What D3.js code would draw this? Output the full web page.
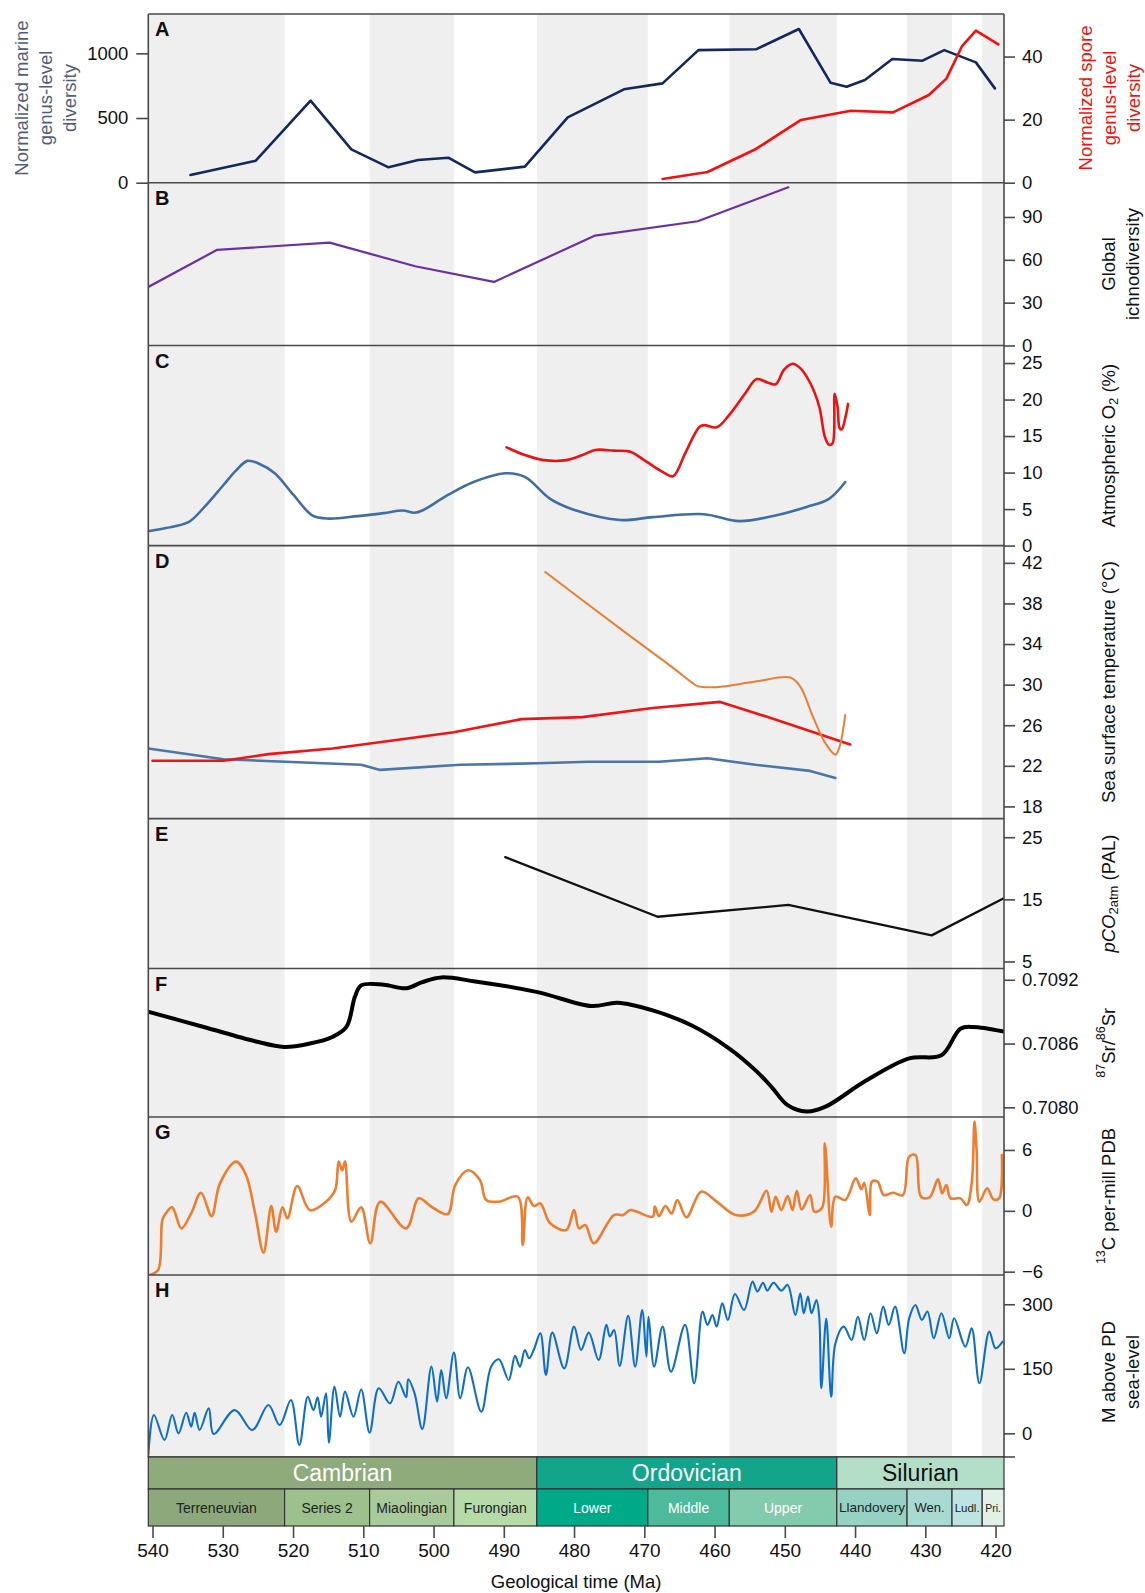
<!DOCTYPE html>
<html><head><meta charset="utf-8">
<script src="https://cdn.jsdelivr.net/npm/d3@7"></script>
<style>
body{margin:0;background:#fff;}
svg{display:block;font-family:"Liberation Sans",Arial,Helvetica,sans-serif;}
</style></head><body>
<svg id="chart" width="1145" height="1593"></svg>
<script>
// ---------------- DATA ----------------
const xDomain = [540.6, 418.8];
const xTicks = [540, 530, 520, 510, 500, 490, 480, 470, 460, 450, 440, 430, 420];

const periodNames = ["Cambrian", "Ordovician", "Silurian"];
const periodBounds = [540.6, 485.3, 442.6, 418.8];
const periodColors = ["#8FAB7C", "#12A58C", "#B3DFC9"];
const periodTextColors = ["#ffffff", "#ffffff", "#111111"];

const seriesNames = ["Terreneuvian", "Series 2", "Miaolingian", "Furongian", "Lower", "Middle", "Upper", "Llandovery", "Wen.", "Ludl.", "Pri."];
const seriesBounds = [540.6, 521.2, 509.1, 497.1, 485.3, 469.5, 457.9, 442.6, 432.6, 426.2, 421.9, 418.8];
const seriesColors = ["#8DA97B", "#9DC18D", "#A9CB9B", "#B7DAA9", "#00AA88", "#4DBA9B", "#84CBAD", "#96D2C4", "#A9DAD1", "#BDE4E0", "#E1F1E8"];
const seriesTextColors = ["#222", "#222", "#222", "#222", "#fff", "#fff", "#fff", "#222", "#222", "#222", "#222"];
const seriesFontSizes = [14, 14, 14, 14, 14, 14, 14, 13.5, 13, 11.5, 10.5];

// A: marine genus diversity (left axis) and spore genus diversity (right axis)
const marineAge = [534.6, 525.3, 517.5, 511.7, 506.4, 502.2, 497.9, 494.1, 487.0, 480.9, 472.9, 467.4, 462.3, 454.1, 448.0, 443.5, 441.2, 438.6, 434.7, 430.4, 427.3, 422.8, 420.1];
const marineDiv = [60, 170, 634, 258, 119, 175, 193, 80, 124, 505, 722, 768, 1025, 1031, 1188, 773, 742, 794, 956, 943, 1025, 930, 729];
const sporeAge = [467.4, 461.0, 454.1, 447.7, 440.6, 434.6, 429.5, 427.0, 424.8, 422.8, 419.6];
const sporeDiv = [1.2, 3.4, 10.7, 19.9, 22.8, 22.3, 27.8, 33.0, 43.2, 48.2, 43.9];
const marineTicks = [0, 500, 1000];
const sporeTicks = [0, 20, 40];

// B: global ichnodiversity
const ichnoAge = [540.6, 530.8, 514.8, 502.6, 491.4, 477.0, 462.4, 449.5];
const ichnoDiv = [41, 67, 72, 55.5, 44.5, 77, 87, 110.8];
const ichnoTicks = [0, 30, 60, 90];

// C: atmospheric O2
const o2RedAge = [489.6, 487.0, 484.3, 481.1, 478.8, 477.0, 474.3, 472.0, 469.7, 467.4, 465.9, 464.2, 462.2, 461.5, 459.7, 457.9, 455.6, 454.0, 452.4, 451.3, 450.1, 448.9, 447.8, 446.4, 445.1, 444.3, 443.7, 443.2, 442.9, 442.5, 442.2, 441.9, 441.4, 441.0];
const o2Red = [13.45, 12.4, 11.7, 11.7, 12.4, 13.1, 13.0, 12.85, 11.5, 10.1, 9.5, 12.6, 16.2, 16.5, 16.2, 17.9, 20.9, 22.8, 22.3, 22.1, 24.1, 24.9, 24.3, 22.3, 19.05, 14.9, 13.8, 14.0, 20.8, 19.05, 16.1, 15.9, 17.45, 19.4];
const o2BlueAge = [540.6, 538.1, 534.9, 532.6, 529.9, 528.1, 526.5, 524.9, 522.6, 519.9, 517.2, 514.9, 510.8, 507.1, 504.4, 502.7, 501.6, 498.0, 494.3, 489.8, 487.0, 483.4, 479.7, 473.4, 468.8, 461.5, 456.5, 451.5, 446.9, 443.7, 441.4];
const o2Blue = [1.97, 2.4, 3.2, 5.3, 8.3, 10.3, 11.6, 11.25, 9.9, 6.9, 4.1, 3.7, 4.04, 4.45, 4.8, 4.5, 4.8, 6.9, 8.7, 9.9, 9.4, 6.4, 4.8, 3.5, 3.9, 4.3, 3.35, 4.1, 5.3, 6.4, 8.7];
const o2Ticks = [0, 5, 10, 15, 20, 25];

// D: sea surface temperature
const sstOrangeAge = [484.1, 473.0, 466.0, 463.2, 462.4, 459.7, 454.2, 449.2, 447.8, 446.0, 444.2, 442.8, 442.2, 441.4];
const sstOrange = [41.1, 35.3, 31.7, 30.2, 29.85, 29.75, 30.3, 30.7, 29.8, 26.85, 24.2, 23.1, 23.9, 27.0];
const sstRedAge = [540.0, 529.9, 523.5, 514.4, 505.3, 497.1, 487.5, 478.8, 468.8, 459.2, 450.6, 440.7];
const sstRed = [22.5, 22.5, 23.15, 23.7, 24.55, 25.3, 26.6, 26.8, 27.7, 28.3, 26.4, 24.1];
const sstBlueAge = [540.6, 529.9, 510.3, 507.6, 496.2, 485.2, 477.9, 467.9, 461.0, 454.2, 446.4, 442.8];
const sstBlue = [23.7, 22.65, 22.1, 21.6, 22.1, 22.25, 22.4, 22.4, 22.75, 22.1, 21.5, 20.8];
const sstTicks = [18, 22, 26, 30, 34, 38, 42];

// E: pCO2
const co2Age = [489.8, 468.1, 449.5, 429.1, 418.9];
const co2 = [21.8, 12.2, 14.1, 9.2, 15.15];
const co2Ticks = [5, 15, 25];

// F: 87Sr/86Sr
const srAge = [540.4, 532.7, 525.4, 521.3, 517.6, 514.4, 512.4, 511.2, 510.3, 507.1, 503.9, 501.6, 498.9, 494.3, 485.2, 477.5, 473.8, 468.8, 463.3, 457.9, 454.2, 451.9, 449.6, 446.9, 444.2, 438.7, 432.3, 427.7, 425.0, 423.2, 419.0];
const srRatio = [0.708896, 0.708756, 0.708622, 0.708568, 0.708600, 0.708662, 0.708756, 0.709037, 0.709147, 0.709153, 0.709120, 0.709178, 0.709222, 0.709187, 0.709084, 0.708953, 0.708984, 0.708912, 0.708772, 0.708553, 0.708350, 0.708193, 0.708020, 0.707960, 0.708006, 0.708240, 0.708460, 0.708490, 0.708740, 0.708756, 0.708715];
const srTicks = [0.7080, 0.7086, 0.7092];

// G: d13C
const c13Age = [540.4, 539.2, 538.6, 538.1, 537.2, 535.9, 534.5, 533.1, 531.6, 530.4, 528.1, 526.7, 525.4, 524.2, 523.1, 522.4, 521.5, 520.8, 519.4, 517.6, 515.3, 514.0, 513.5, 513.0, 512.6, 511.7, 510.3, 509.0, 507.6, 503.9, 502.1, 500.3, 498.0, 496.9, 495.1, 493.4, 492.5, 490.7, 488.0, 487.3, 486.6, 485.7, 484.8, 483.4, 481.1, 480.0, 479.3, 478.4, 477.2, 474.3, 473.0, 472.0, 468.8, 468.5, 467.9, 467.0, 466.1, 465.3, 464.0, 461.9, 459.7, 457.0, 454.4, 452.6, 451.9, 451.3, 450.5, 449.6, 448.9, 448.3, 447.6, 446.4, 445.8, 444.7, 444.3, 443.4, 442.8, 441.4, 439.9, 439.1, 438.7, 437.9, 437.6, 436.8, 435.9, 434.6, 433.2, 432.3, 431.4, 430.6, 429.4, 428.2, 427.6, 427.0, 426.4, 425.0, 424.1, 423.4, 423.0, 422.7, 422.3, 421.2, 420.3, 419.5, 419.1];
const c13 = [-6.33, -5.83, -0.9, -0.25, 0.34, -1.73, -0.25, 1.78, -0.51, 2.7, 4.85, 3.53, -0.25, -4.12, 0.46, -2.05, 0.34, -0.74, 2.44, 0.08, 0.9, 2.05, 4.85, 4.0, 4.85, -1.07, 0.34, -3.2, 0.9, -1.73, 1.23, 0.4, -0.32, 2.55, 4.0, 3.03, 1.07, 0.9, 1.39, -3.37, 1.32, 0.47, 0.73, -1.23, -1.89, 0.08, -1.73, -1.40, -3.2, -0.41, -0.41, 0.08, -0.58, 0.41, -0.51, 0.47, -0.25, 1.07, -0.64, 1.89, 0.9, -0.41, -0.08, 1.98, -0.08, 1.39, 0.08, 1.45, 0.08, 1.98, 0.14, 1.55, -0.08, 0.3, 6.65, -1.56, 1.39, 1.07, 3.2, 2.12, 2.77, -0.41, 2.87, 2.87, 1.55, 1.78, 1.55, 5.34, 5.5, 1.39, 1.32, 3.1, 1.72, 2.55, 1.23, 1.23, 0.57, 2.7, 8.79, 6.0, 0.9, 2.22, 1.13, 1.23, 5.5];
const c13Ticks = [-6, 0, 6];

// H: sea level
const seaAge = [540.6, 539.8, 538.3, 537.2, 536.3, 535.2, 534.5, 534.0, 533.3, 532.0, 531.3, 528.3, 525.8, 523.5, 521.9, 520.3, 519.1, 517.9, 517.1, 516.5, 516.0, 515.3, 514.9, 514.1, 513.3, 512.6, 511.4, 510.3, 509.1, 507.8, 506.2, 505.0, 503.9, 503.6, 502.7, 501.6, 500.3, 499.5, 498.9, 498.2, 497.1, 496.2, 495.1, 493.2, 491.8, 490.7, 489.3, 488.4, 487.7, 487.0, 486.4, 485.7, 484.8, 484.0, 483.1, 481.4, 480.0, 479.0, 477.9, 476.5, 475.4, 474.9, 474.3, 473.5, 472.3, 471.3, 470.3, 469.7, 469.4, 468.6, 467.4, 466.2, 464.2, 462.9, 461.7, 461.0, 460.3, 459.7, 458.9, 458.1, 457.1, 455.8, 454.6, 453.9, 453.1, 452.5, 451.6, 450.5, 449.6, 448.5, 447.8, 447.3, 446.7, 446.2, 445.5, 445.1, 444.8, 444.1, 443.4, 442.8, 441.6, 440.5, 439.6, 438.7, 437.8, 436.9, 436.0, 435.2, 434.3, 433.0, 432.3, 431.4, 430.5, 429.7, 428.8, 427.7, 426.6, 425.9, 424.3, 423.4, 422.3, 420.9, 420.0, 419.0];
const seaLevel = [-50, 42.6, -15.5, 42.6, 0, 48, 15.5, 48, 7.8, 58, -1.6, 54, 7.8, 66, 19.4, 77.5, -27, 85, 54, 84, 38.8, 93, -21.7, 108.5, 38.8, 97, 38.8, 102, 1.6, 104.7, 69.8, 120, 83.7, 125.6, 93, 10, 155, 73.6, 147, 81.4, 187.6, 81.4, 153.5, 50.4, 155, 172, 124, 180, 155, 193.8, 174.4, 195.3, 232.6, 135.7, 234, 151, 248, 193.8, 234, 170.5, 252, 225, 240, 156.6, 272.9, 155, 286.8, 178.3, 271, 155, 248, 143.4, 252, 116.3, 283, 252, 275, 248, 302, 263.6, 324, 286.8, 352.7, 329.5, 350, 331.8, 350, 331.8, 345, 275, 325.6, 279, 317.8, 279, 310, 271, 104.7, 267, 85, 209, 248, 217, 271, 217, 279, 232.6, 294.6, 252, 294.6, 186, 267.4, 298.4, 263.6, 283, 221, 279, 221, 267.4, 201.6, 244, 116.3, 236.4, 197.7, 213];
const seaTicks = [0, 150, 300];

// ---------------- DRAWING ----------------
const svg = d3.select("#chart");
const X0 = 148.3, X1 = 1004, TOP = 14, BOTTOM = 1457;
const x = d3.scaleLinear().domain(xDomain).range([X0, X1]);
const FONT = 18.5;
const borderColor = "#4a4a4a";

// background bands (alternate series)
svg.append("g").selectAll("rect")
  .data(d3.range(seriesNames.length).filter(i => i % 2 === 0))
  .join("rect")
  .attr("x", i => x(seriesBounds[i]))
  .attr("width", i => x(seriesBounds[i + 1]) - x(seriesBounds[i]))
  .attr("y", TOP).attr("height", BOTTOM - TOP)
  .attr("fill", "#EFEFEF");

const panels = {
  A: {top: 14, bottom: 182.7, domain: [0, 53.5]},
  B: {top: 182.7, bottom: 345.5, domain: [0, 114]},
  C: {top: 345.5, bottom: 545.6, domain: [0, 27.4]},
  D: {top: 545.6, bottom: 818.6, domain: [16.8, 43.7]},
  E: {top: 818.6, bottom: 968.5, domain: [3.87, 28.0]},
  F: {top: 968.5, bottom: 1117, domain: [0.707909, 0.709306]},
  G: {top: 1117, bottom: 1275, domain: [-6.33, 9.25]},
  H: {top: 1275, bottom: 1457, domain: [-55, 368]}
};
Object.entries(panels).forEach(([k, p]) => {
  p.y = d3.scaleLinear().domain(p.domain).range([p.bottom, p.top]);
  const cid = "clip" + k;
  svg.append("clipPath").attr("id", cid).append("rect")
    .attr("x", X0).attr("y", p.top).attr("width", X1 - X0).attr("height", p.bottom - p.top);
  p.g = svg.append("g").attr("clip-path", `url(#${cid})`);
});
const yMarine = d3.scaleLinear().domain([0, 1304]).range([panels.A.bottom, panels.A.top]);

function drawLine(panel, ages, vals, color, width, curve, yScale) {
  const ys = yScale || panel.y;
  const line = d3.line().x(d => x(d[0])).y(d => ys(d[1])).curve(curve || d3.curveLinear);
  panel.g.append("path").datum(d3.zip(ages, vals))
    .attr("d", line).attr("fill", "none").attr("stroke", color)
    .attr("stroke-width", width).attr("stroke-linejoin", "round").attr("stroke-linecap", "round");
}
const smooth = d3.curveCatmullRom.alpha(0.5);

drawLine(panels.A, marineAge, marineDiv, "#13285C", 2.6, null, yMarine);
drawLine(panels.A, sporeAge, sporeDiv, "#F50F0F", 2.6);
drawLine(panels.B, ichnoAge, ichnoDiv, "#6B30A2", 2.2);
drawLine(panels.C, o2BlueAge, o2Blue, "#3F6EA5", 2.6, smooth);
drawLine(panels.C, o2RedAge, o2Red, "#EE1111", 2.6, smooth);
drawLine(panels.D, sstBlueAge, sstBlue, "#4A76A8", 2.6);
drawLine(panels.D, sstRedAge, sstRed, "#F01414", 2.6);
drawLine(panels.D, sstOrangeAge, sstOrange, "#ED7D31", 2, smooth);
drawLine(panels.E, co2Age, co2, "#111111", 2.3);
drawLine(panels.F, srAge, srRatio, "#000000", 4, smooth);
drawLine(panels.G, c13Age, c13, "#EE7D2F", 2.6, smooth);
drawLine(panels.H, seaAge, seaLevel, "#0F6FC6", 2.1, smooth);

// frame lines
const frame = svg.append("g").attr("stroke", borderColor).attr("stroke-width", 1.6);
frame.append("line").attr("x1", X0).attr("x2", X1).attr("y1", TOP).attr("y2", TOP);
frame.append("line").attr("x1", X0).attr("x2", X0).attr("y1", TOP).attr("y2", BOTTOM);
frame.append("line").attr("x1", X1).attr("x2", X1).attr("y1", TOP).attr("y2", BOTTOM);
Object.values(panels).forEach(p => {
  frame.append("line").attr("x1", X0).attr("x2", X1).attr("y1", p.bottom).attr("y2", p.bottom);
});
frame.append("line").attr("x1", X1).attr("x2", X1 + 11).attr("y1", BOTTOM).attr("y2", BOTTOM);

// axes
function styleAxis(g) {
  g.select(".domain").remove();
  g.selectAll(".tick line").attr("stroke", borderColor).attr("stroke-width", 1.6);
  g.selectAll(".tick text").attr("fill", "#111").style("font-size", FONT + "px").style("font-family", '"Liberation Sans", Arial, sans-serif');
}
function rightAxis(p, ticks, fmt) {
  const ax = d3.axisRight(p.y).tickValues(ticks).tickSize(11).tickPadding(7);
  if (fmt) ax.tickFormat(fmt);
  svg.append("g").attr("transform", `translate(${X1},0)`).call(ax).call(styleAxis);
}
svg.append("g").attr("transform", `translate(${X0},0)`)
  .call(d3.axisLeft(yMarine).tickValues(marineTicks).tickFormat(d3.format("d")).tickSize(12).tickPadding(8)).call(styleAxis);
rightAxis(panels.A, sporeTicks);
rightAxis(panels.B, ichnoTicks);
rightAxis(panels.C, o2Ticks);
rightAxis(panels.D, sstTicks);
rightAxis(panels.E, co2Ticks);
rightAxis(panels.F, srTicks, d3.format(".4f"));
rightAxis(panels.G, c13Ticks);
rightAxis(panels.H, seaTicks);

// panel letters
Object.entries(panels).forEach(([k, p]) => {
  svg.append("text").attr("x", 155).attr("y", p.top + 22).text(k)
    .attr("font-weight", "bold").attr("font-size", 20).attr("fill", "#111");
});

// axis titles (rotated)
function vTitle(cx, cy, lines, color) {
  const t = svg.append("g").attr("transform", `translate(${cx},${cy}) rotate(-90)`);
  lines.forEach((ln, i) => {
    const off = (i - (lines.length - 1) / 2) * 24;
    const txt = t.append("text").attr("x", 0).attr("y", off).attr("text-anchor", "middle")
      .attr("dominant-baseline", "central").attr("font-size", FONT).attr("fill", color);
    if (typeof ln === "string") txt.text(ln);
    else ln(txt);
  });
}
vTitle(45, 98, ["Normalized marine", "genus-level", "diversity"], "#4F5D7B");
vTitle(1109, 98, ["Normalized spore", "genus-level", "diversity"], "#F50F0F");
vTitle(1120, 264, ["Global", "ichnodiversity"], "#111");
vTitle(1108, (panels.C.top + panels.C.bottom) / 2, [t => {
  t.append("tspan").text("Atmospheric O");
  t.append("tspan").attr("dy", 5).attr("font-size", 13).text("2");
  t.append("tspan").attr("dy", -5).text(" (%)");
}], "#111");
vTitle(1108, (panels.D.top + panels.D.bottom) / 2, ["Sea surface temperature (°C)"], "#111");
vTitle(1108, (panels.E.top + panels.E.bottom) / 2, [t => {
  t.append("tspan").attr("font-style", "italic").text("pCO");
  t.append("tspan").attr("dy", 5).attr("font-size", 13).text("2atm");
  t.append("tspan").attr("dy", -5).text(" (PAL)");
}], "#111");
vTitle(1108, (panels.F.top + panels.F.bottom) / 2, [t => {
  t.append("tspan").attr("dy", -7).attr("font-size", 12.5).text("87");
  t.append("tspan").attr("dy", 7).text("Sr/");
  t.append("tspan").attr("dy", -7).attr("font-size", 12.5).text("86");
  t.append("tspan").attr("dy", 7).text("Sr");
}], "#111");
vTitle(1108, (panels.G.top + panels.G.bottom) / 2, [t => {
  t.append("tspan").attr("dy", -7).attr("font-size", 12.5).text("13");
  t.append("tspan").attr("dy", 7).text("C per-mill PDB");
}], "#111");
vTitle(1120, (panels.H.top + panels.H.bottom) / 2 + 6, ["M above PD", "sea-level"], "#111");

// timescale
const TS1 = 1457, TS2 = 1489, TS3 = 1526;
const ts = svg.append("g");
ts.selectAll("rect.period").data(periodNames).join("rect")
  .attr("x", (d, i) => x(periodBounds[i])).attr("width", (d, i) => x(periodBounds[i + 1]) - x(periodBounds[i]))
  .attr("y", TS1).attr("height", TS2 - TS1).attr("fill", (d, i) => periodColors[i])
  .attr("stroke", "#333").attr("stroke-width", 1.2);
ts.selectAll("text.period").data(periodNames).join("text")
  .attr("x", (d, i) => (x(periodBounds[i]) + x(periodBounds[i + 1])) / 2)
  .attr("y", (TS1 + TS2) / 2).attr("dominant-baseline", "central").attr("text-anchor", "middle")
  .attr("font-size", 23).attr("fill", (d, i) => periodTextColors[i]).text(d => d);
ts.selectAll("rect.series").data(seriesNames).join("rect")
  .attr("x", (d, i) => x(seriesBounds[i])).attr("width", (d, i) => x(seriesBounds[i + 1]) - x(seriesBounds[i]))
  .attr("y", TS2).attr("height", TS3 - TS2).attr("fill", (d, i) => seriesColors[i])
  .attr("stroke", "#333").attr("stroke-width", 1.2);
ts.selectAll("text.series").data(seriesNames).join("text")
  .attr("x", (d, i) => (x(seriesBounds[i]) + x(seriesBounds[i + 1])) / 2)
  .attr("y", (TS2 + TS3) / 2).attr("dominant-baseline", "central").attr("text-anchor", "middle")
  .attr("font-size", (d, i) => seriesFontSizes[i]).attr("fill", (d, i) => seriesTextColors[i]).text(d => d);

// x axis
svg.append("g").attr("transform", `translate(0,${TS3})`)
  .call(d3.axisBottom(x).tickValues(xTicks).tickSize(12).tickPadding(6))
  .call(g => { styleAxis(g); g.selectAll(".tick text").style("font-size", "19px"); });
svg.append("text").attr("x", (X0 + X1) / 2).attr("y", 1588).attr("text-anchor", "middle")
  .attr("font-size", 18.5).attr("fill", "#111").text("Geological time (Ma)");
</script>
</body></html>
